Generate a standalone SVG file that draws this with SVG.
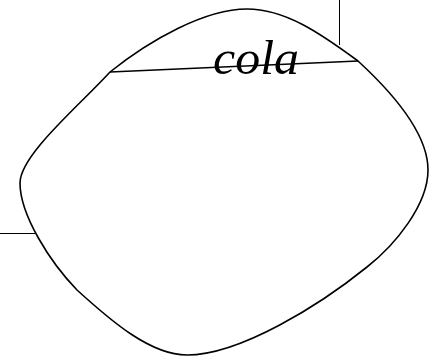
<svg xmlns="http://www.w3.org/2000/svg" width="441" height="356" viewBox="0 0 441 356">
<style>
.shape{fill:none;stroke:#000;stroke-width:1.6}
.conn{fill:none;stroke:#000;stroke-width:1}
.lbl{font-family:"Liberation Serif","DejaVu Serif",serif;font-style:italic;font-size:49px;fill:#000}
</style>
<rect width="441" height="356" fill="#fff"/>
<g id="connectors">
<line class="conn" x1="339.5" y1="0" x2="339.5" y2="45"/>
<line class="conn" x1="0" y1="233.5" x2="35" y2="233.5"/>
</g>
<g id="node-cola">
<path class="shape" d="M247,9 C285,9 320,33 358,61 C395,95 428,135 428,170 C428,205 395,245 367,267 C320,305 240,355 187,355 C150,355 110,320 77,290 C50,262 20,215 20,183 C20,155 80,105 110,72 C150,40 205,9 247,9 Z"/>
<line class="shape" x1="110" y1="72" x2="358" y2="61"/>
<text class="lbl" x="213" y="74" textLength="86" lengthAdjust="spacingAndGlyphs">cola</text>
</g>
</svg>
